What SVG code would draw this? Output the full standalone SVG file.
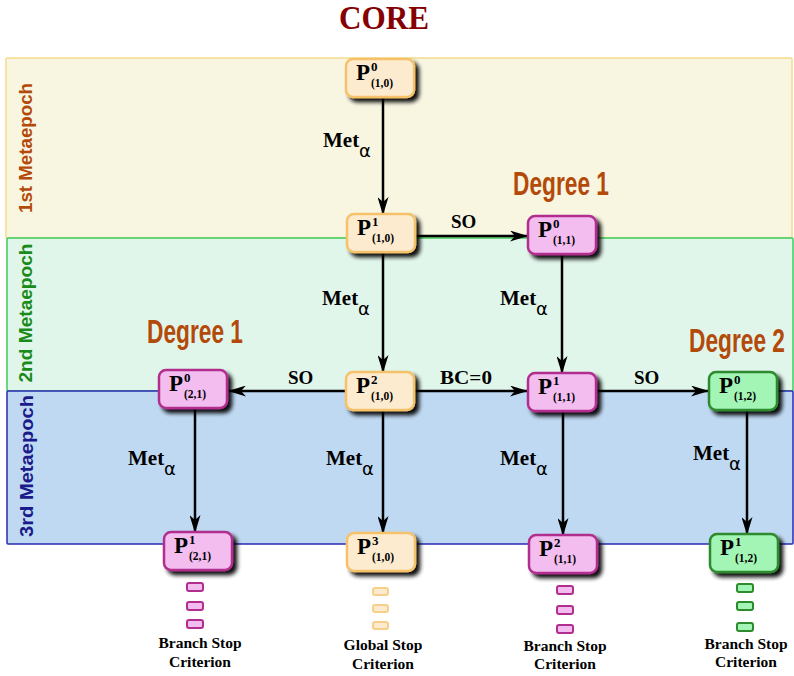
<svg xmlns="http://www.w3.org/2000/svg" width="794" height="676" viewBox="0 0 794 676">
  <defs>
    <filter id="shadow" x="-20%" y="-20%" width="150%" height="160%">
      <feGaussianBlur in="SourceAlpha" stdDeviation="2"/>
      <feOffset dx="4" dy="4" result="off"/>
      <feComponentTransfer><feFuncA type="linear" slope="0.95"/></feComponentTransfer>
      <feMerge><feMergeNode/><feMergeNode in="SourceGraphic"/></feMerge>
    </filter>
    <marker id="arrow" viewBox="0 0 18 11" refX="17" refY="5.5" markerWidth="18" markerHeight="11" markerUnits="userSpaceOnUse" orient="auto">
      <path d="M0,0 L18,5.5 L0,11 L5,5.5 z" fill="#000"/>
    </marker>
  </defs>
  <style>
    .band-label { font-family: "Liberation Sans", Arial, sans-serif; font-weight: bold; font-size: 19px; text-anchor: middle; }
    .degree { font-family: "Liberation Sans", Arial, sans-serif; font-weight: bold; font-size: 34px; fill: #b34a0a; }
    .node rect { stroke-width: 2.5; }
    .orange rect { fill: #fdebd0; stroke: #f5c26b; }
    .pink rect { fill: #f3bdf0; stroke: #b22e8e; }
    .green rect { fill: #a2f5b5; stroke: #2d8a2d; }
    .p { font-family: "Liberation Serif", "Times New Roman", serif; font-weight: bold; font-size: 23px; fill: #000; }
    .sup { font-family: "Liberation Serif", "Times New Roman", serif; font-weight: bold; font-size: 13px; fill: #000; }
    .sub { font-family: "Liberation Serif", "Times New Roman", serif; font-weight: bold; font-size: 11.5px; fill: #000; }
    .edge { stroke: #000; stroke-width: 2.5; fill: none; marker-end: url(#arrow); }
    .elabel { font-family: "Liberation Serif", "Times New Roman", serif; font-weight: bold; font-size: 19px; fill: #000; }
    .met { font-family: "Liberation Serif", "Times New Roman", serif; font-weight: bold; font-size: 21px; fill: #000; }
    .alpha { font-family: "DejaVu Sans", sans-serif; font-size: 18px; fill: #000; }
    .stop { font-family: "Liberation Serif", "Times New Roman", serif; font-weight: bold; font-size: 15.5px; text-anchor: middle; fill: #000; }
    .dot { stroke-width: 2; }
  </style>

  <!-- title -->
  <text x="339" y="29" font-family="Liberation Serif, Times New Roman, serif" font-weight="bold" font-size="33" fill="#850000" textLength="90" lengthAdjust="spacingAndGlyphs">CORE</text>

  <!-- metaepoch bands -->
  <g id="bands">
    <rect x="6" y="58" width="786" height="180" fill="#f8f6e1" stroke="#f3dc8c" stroke-width="1.5" rx="1"/>
    <rect x="7" y="238" width="786" height="153" fill="#e1f6eb" stroke="#3ccc58" stroke-width="1.5" rx="1"/>
    <rect x="7" y="391" width="786" height="153" fill="#bfd9f2" stroke="#2a2ab3" stroke-width="1.5" rx="1"/>
    <text class="band-label" fill="#b34a0a" transform="translate(32,148) rotate(-90)" textLength="130" lengthAdjust="spacingAndGlyphs">1st Metaepoch</text>
    <text class="band-label" fill="#1a8a1a" transform="translate(32,313) rotate(-90)" textLength="139" lengthAdjust="spacingAndGlyphs">2nd Metaepoch</text>
    <text class="band-label" fill="#1a1a8a" transform="translate(33,466) rotate(-90)" textLength="142" lengthAdjust="spacingAndGlyphs">3rd Metaepoch</text>
  </g>

  <!-- degree headings -->
  <text class="degree" x="513" y="195" textLength="96" lengthAdjust="spacingAndGlyphs">Degree 1</text>
  <text class="degree" x="147" y="343" textLength="96" lengthAdjust="spacingAndGlyphs">Degree 1</text>
  <text class="degree" x="689" y="352" textLength="96" lengthAdjust="spacingAndGlyphs">Degree 2</text>

  <!-- connectors -->
  <g id="connectors">
    <line class="edge" x1="383" y1="97" x2="383" y2="214"/>
    <line class="edge" x1="383" y1="252" x2="383" y2="372"/>
    <line class="edge" x1="413" y1="236" x2="527" y2="236"/>
    <line class="edge" x1="562" y1="254" x2="562" y2="373"/>
    <line class="edge" x1="346" y1="391" x2="229" y2="391"/>
    <line class="edge" x1="415" y1="391" x2="527" y2="391"/>
    <line class="edge" x1="596" y1="391" x2="708" y2="391"/>
    <line class="edge" x1="195" y1="408" x2="195" y2="532"/>
    <line class="edge" x1="383" y1="410" x2="383" y2="533"/>
    <line class="edge" x1="563" y1="411" x2="563" y2="535"/>
    <line class="edge" x1="747" y1="410" x2="747" y2="534"/>

    <text class="elabel" x="451" y="228">SO</text>
    <text class="elabel" x="288" y="384">SO</text>
    <text class="elabel" x="440" y="384" textLength="52" lengthAdjust="spacingAndGlyphs">BC=0</text>
    <text class="elabel" x="634" y="384">SO</text>

    <text class="met" x="323" y="147">Met</text><text class="alpha" x="359" y="157">α</text>
    <text class="met" x="322" y="305">Met</text><text class="alpha" x="358" y="315">α</text>
    <text class="met" x="500" y="305">Met</text><text class="alpha" x="536" y="315">α</text>
    <text class="met" x="128" y="465">Met</text><text class="alpha" x="164" y="475">α</text>
    <text class="met" x="326" y="465">Met</text><text class="alpha" x="362" y="475">α</text>
    <text class="met" x="500" y="465">Met</text><text class="alpha" x="536" y="475">α</text>
    <text class="met" x="693" y="460">Met</text><text class="alpha" x="729" y="470">α</text>
  </g>

  <!-- nodes -->
  <g id="P10_0" class="node orange" transform="translate(346,59)">
    <rect width="68" height="38" rx="7" filter="url(#shadow)"/>
    <text class="p" x="10" y="21">P</text><text class="sup" x="25" y="12">0</text><text class="sub" x="25" y="28">(1,0)</text>
  </g>
  <g id="P10_1" class="node orange" transform="translate(347,214)">
    <rect width="68" height="38" rx="7" filter="url(#shadow)"/>
    <text class="p" x="10" y="21">P</text><text class="sup" x="25" y="12">1</text><text class="sub" x="25" y="28">(1,0)</text>
  </g>
  <g id="P11_0" class="node pink" transform="translate(528,216)">
    <rect width="68" height="38" rx="7" filter="url(#shadow)"/>
    <text class="p" x="10" y="21">P</text><text class="sup" x="25" y="12">0</text><text class="sub" x="25" y="28">(1,1)</text>
  </g>
  <g id="P21_0" class="node pink" transform="translate(159,370)">
    <rect width="68" height="38" rx="7" filter="url(#shadow)"/>
    <text class="p" x="10" y="21">P</text><text class="sup" x="25" y="12">0</text><text class="sub" x="25" y="28">(2,1)</text>
  </g>
  <g id="P10_2" class="node orange" transform="translate(346,372)">
    <rect width="68" height="38" rx="7" filter="url(#shadow)"/>
    <text class="p" x="10" y="21">P</text><text class="sup" x="25" y="12">2</text><text class="sub" x="25" y="28">(1,0)</text>
  </g>
  <g id="P11_1" class="node pink" transform="translate(528,373)">
    <rect width="68" height="38" rx="7" filter="url(#shadow)"/>
    <text class="p" x="10" y="21">P</text><text class="sup" x="25" y="12">1</text><text class="sub" x="25" y="28">(1,1)</text>
  </g>
  <g id="P12_0" class="node green" transform="translate(709,372)">
    <rect width="68" height="38" rx="7" filter="url(#shadow)"/>
    <text class="p" x="10" y="21">P</text><text class="sup" x="25" y="12">0</text><text class="sub" x="25" y="28">(1,2)</text>
  </g>
  <g id="P21_1" class="node pink" transform="translate(164,532)">
    <rect width="68" height="38" rx="7" filter="url(#shadow)"/>
    <text class="p" x="10" y="21">P</text><text class="sup" x="25" y="12">1</text><text class="sub" x="25" y="28">(2,1)</text>
  </g>
  <g id="P10_3" class="node orange" transform="translate(347,533)">
    <rect width="68" height="38" rx="7" filter="url(#shadow)"/>
    <text class="p" x="10" y="21">P</text><text class="sup" x="25" y="12">3</text><text class="sub" x="25" y="28">(1,0)</text>
  </g>
  <g id="P11_2" class="node pink" transform="translate(529,535)">
    <rect width="68" height="38" rx="7" filter="url(#shadow)"/>
    <text class="p" x="10" y="21">P</text><text class="sup" x="25" y="12">2</text><text class="sub" x="25" y="28">(1,1)</text>
  </g>
  <g id="P12_1" class="node green" transform="translate(710,534)">
    <rect width="68" height="38" rx="7" filter="url(#shadow)"/>
    <text class="p" x="10" y="21">P</text><text class="sup" x="25" y="12">1</text><text class="sub" x="25" y="28">(1,2)</text>
  </g>

  <!-- continuation marks and stop criteria -->
  <g id="stop-21">
    <rect class="dot" x="187" y="583" width="16" height="8" rx="2" fill="#f3bdf0" stroke="#b22e8e"/>
    <rect class="dot" x="187" y="602" width="16" height="8" rx="2" fill="#f3bdf0" stroke="#b22e8e"/>
    <rect class="dot" x="187" y="620" width="16" height="8" rx="2" fill="#f3bdf0" stroke="#b22e8e"/>
    <text class="stop" x="200" y="648">Branch Stop</text>
    <text class="stop" x="200" y="667">Criterion</text>
  </g>
  <g id="stop-10">
    <rect class="dot" x="373" y="588" width="15" height="7" rx="2" fill="#fdebd0" stroke="#f8cf8a"/>
    <rect class="dot" x="373" y="605" width="15" height="7" rx="2" fill="#fdebd0" stroke="#f8cf8a"/>
    <rect class="dot" x="373" y="622" width="15" height="7" rx="2" fill="#fdebd0" stroke="#f8cf8a"/>
    <text class="stop" x="383" y="650">Global Stop</text>
    <text class="stop" x="383" y="669">Criterion</text>
  </g>
  <g id="stop-11">
    <rect class="dot" x="557" y="586" width="16" height="8" rx="2" fill="#f3bdf0" stroke="#b22e8e"/>
    <rect class="dot" x="557" y="606" width="16" height="8" rx="2" fill="#f3bdf0" stroke="#b22e8e"/>
    <rect class="dot" x="557" y="625" width="16" height="8" rx="2" fill="#f3bdf0" stroke="#b22e8e"/>
    <text class="stop" x="565" y="651">Branch Stop</text>
    <text class="stop" x="565" y="669">Criterion</text>
  </g>
  <g id="stop-12">
    <rect class="dot" x="737" y="584" width="16" height="8" rx="2" fill="#a2f5b5" stroke="#2d8a2d"/>
    <rect class="dot" x="737" y="602" width="16" height="8" rx="2" fill="#a2f5b5" stroke="#2d8a2d"/>
    <rect class="dot" x="737" y="623" width="16" height="8" rx="2" fill="#a2f5b5" stroke="#2d8a2d"/>
    <text class="stop" x="746" y="649">Branch Stop</text>
    <text class="stop" x="746" y="667">Criterion</text>
  </g>
</svg>
